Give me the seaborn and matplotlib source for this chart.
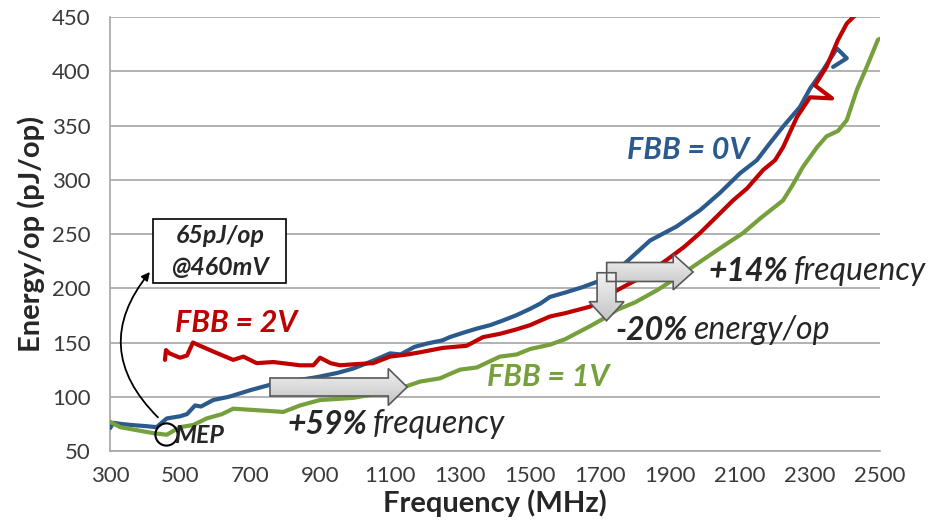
import numpy as np
import matplotlib
matplotlib.use("Agg")
import matplotlib.pyplot as plt
import matplotlib.patches as mpatches
import seaborn as sns

# FBB = 0V (blue)
freq_0v = [300, 310, 330, 360, 400, 433, 462, 500, 520, 543, 560, 595, 640, 700, 757, 800, 850, 890,
           950, 995, 1050, 1100, 1130, 1170, 1205, 1250, 1271, 1309, 1350, 1386, 1420, 1460, 1500,
           1530, 1557, 1600, 1650, 1700, 1771, 1843, 1919, 1986, 2043, 2100, 2148, 2186, 2223, 2271,
           2300, 2337, 2377, 2405, 2366]
energy_0v = [71, 76, 75, 74, 73, 72, 80, 82, 84, 92, 91, 97, 100, 106, 111, 114, 116, 118,
             122, 126, 133, 140, 139, 146, 149, 152, 155, 159, 163, 166, 170, 175, 181,
             186, 192, 196, 201, 207, 223, 244, 257, 272, 288, 306, 318, 334, 349, 367,
             384, 401, 421, 412, 404]

# FBB = 2V (red)
freq_2v = [457, 460, 470, 500, 520, 537, 557, 600, 652, 681, 719, 767, 843, 881, 900, 930, 957, 1000,
           1052, 1100, 1150, 1186, 1250, 1319, 1366, 1414, 1460, 1500, 1557, 1600, 1671, 1710, 1748,
           1800, 1850, 1890, 1940, 1986, 2030, 2080, 2120, 2166, 2200, 2223, 2263, 2300, 2363, 2314,
           2347, 2380, 2405, 2430]
energy_2v = [134, 143, 140, 136, 138, 150, 147, 141, 134, 137, 131, 132, 129, 129, 136, 131, 129, 130,
             131, 137, 139, 141, 145, 147, 155, 158, 162, 166, 174, 177, 183, 190, 198,
             207, 217, 226, 238, 251, 265, 281, 292, 309, 318, 330, 358, 376, 375, 387,
             404, 429, 444, 452]

# FBB = 1V (green)
freq_1v = [300, 329, 380, 423, 462, 500, 538, 576, 620, 652, 700, 750, 795, 843, 900, 950, 995, 1050,
           1100, 1150, 1186, 1243, 1271, 1300, 1348, 1414, 1462, 1500, 1557, 1600, 1671, 1710, 1748,
           1800, 1862, 1920, 1966, 2034, 2109, 2160, 2223, 2250, 2280, 2320, 2347, 2380, 2405, 2434,
           2462, 2494, 2500]
energy_1v = [77, 72, 69, 66.5, 65, 72, 74, 80, 84, 89, 88, 87, 86, 92, 97, 98, 99, 102,
             105, 110, 114, 117, 121, 125, 127, 137, 139, 144, 148, 153, 165, 172, 180,
             187, 198, 210, 220, 235, 251, 265, 281, 295, 312, 330, 340, 345, 355, 383,
             404, 429, 430]

x_ticks = [300, 500, 700, 900, 1100, 1300, 1500, 1700, 1900, 2100, 2300, 2500]
y_ticks = [50, 100, 150, 200, 250, 300, 350, 400, 450]

mep_point = (460, 66)

c_blue = "#2B5A8C"
c_red = "#C00000"
c_green = "#76A03C"

sns.set_theme(style="white")
plt.rcParams["font.family"] = ["Lato", "DejaVu Sans"]

fig = plt.figure(figsize=(9.37, 5.22), dpi=100)
ax = fig.add_axes([0.1174, 0.136, 0.8218, 0.8314])

sns.lineplot(x=freq_0v, y=energy_0v, sort=False, estimator=None, color=c_blue, lw=3, ax=ax, zorder=3)
sns.lineplot(x=freq_2v, y=energy_2v, sort=False, estimator=None, color=c_red, lw=3, ax=ax, zorder=3)
sns.lineplot(x=freq_1v, y=energy_1v, sort=False, estimator=None, color=c_green, lw=3, ax=ax, zorder=3)

ax.set_xlim(300, 2500)
ax.set_ylim(50, 450)
ax.set_xticks(x_ticks)
ax.set_yticks(y_ticks)
ax.yaxis.grid(True, color="#a6a6a6", lw=1.2)
ax.set_axisbelow(True)
for s in ["top", "right"]:
    ax.spines[s].set_visible(False)
for s in ["left", "bottom"]:
    ax.spines[s].set_color("#a6a6a6")
    ax.spines[s].set_linewidth(1.2)
ax.tick_params(axis="both", direction="out", length=6, width=1.2, color="#a6a6a6",
               labelsize=16, labelcolor="#3a3a3a")
ax.tick_params(axis="y", pad=8)
ax.tick_params(axis="x", pad=5)
ax.set_xlabel("Frequency (MHz)", fontsize=21, fontweight="bold", labelpad=2)
ax.set_ylabel("Energy/op (pJ/op)", fontsize=21, fontweight="bold", labelpad=5)


def block_arrow(x, y, dx, dy, width, head_width, head_length):
    arr = mpatches.FancyArrow(x, y, dx, dy, width=width, head_width=head_width,
                              head_length=head_length, length_includes_head=True,
                              facecolor="none", edgecolor="#595959", lw=1.2, zorder=6)
    ax.add_patch(arr)
    verts = arr.get_xy()
    grad = np.linspace(0, 1, 100).reshape(-1, 1)
    im = ax.imshow(grad, extent=[verts[:, 0].min(), verts[:, 0].max(), verts[:, 1].min(), verts[:, 1].max()],
                   origin="upper", cmap=matplotlib.colors.LinearSegmentedColormap.from_list("g", ["#f2f2f2", "#c4c4c4"]),
                   aspect="auto", zorder=5)
    im.set_clip_path(arr)


block_arrow(757, 109, 392, 0, 16.6, 34, 54)
block_arrow(1719, 215, 247, 0, 17.5, 33, 57)
block_arrow(1718.6, 214.3, 0, -44.2, 54, 100, 17.5)
ax.set_xlim(300, 2500)
ax.set_ylim(50, 450)

# series labels
ax.text(1777, 327, "FBB = 0V", color=c_blue, fontsize=22, fontweight="bold", style="italic", va="center", zorder=7)
ax.text(486, 168, "FBB = 2V", color=c_red, fontsize=22, fontweight="bold", style="italic", va="center", zorder=7)
ax.text(1377, 118.5, "FBB = 1V", color=c_green, fontsize=22, fontweight="bold", style="italic", va="center", zorder=7)


def two_part(x, y, bold_part, rest):
    t1 = ax.text(x, y, bold_part, fontsize=23, fontweight="bold", style="italic", va="center", zorder=7)
    ax.annotate(rest, xy=(1, 0), xycoords=t1, xytext=(4, 0), textcoords="offset points",
                fontsize=23, style="italic", va="bottom", ha="left", zorder=7)


two_part(806, 74, "+59%", "frequency")
two_part(2009, 215, "+14%", "frequency")
two_part(1743, 161, "-20%", "energy/op")

# MEP marker
ax.plot(*mep_point, marker="o", ms=16, mfc="none", mec="black", mew=1.5, zorder=7, clip_on=False)
ax.text(484, 64, "MEP", fontsize=18, fontweight="bold", style="italic", va="center", zorder=7)

# callout box
ax.add_patch(mpatches.Rectangle((423, 204.8), 380, 59, facecolor="white", edgecolor="black", lw=1.2, zorder=7))
ax.text(614, 248.5, "65pJ/op", fontsize=18, fontweight="bold", style="italic", ha="center", va="center", zorder=8)
ax.text(614, 219.5, "@460mV", fontsize=18, fontweight="bold", style="italic", ha="center", va="center", zorder=8)
ax.annotate("", xy=(414, 215), xytext=(437, 81),
            arrowprops=dict(arrowstyle="-|>", color="black", lw=1.3, mutation_scale=12,
                            connectionstyle="arc3,rad=-0.45", shrinkA=0, shrinkB=0), zorder=8)

fig.savefig("out.png", dpi=100)
